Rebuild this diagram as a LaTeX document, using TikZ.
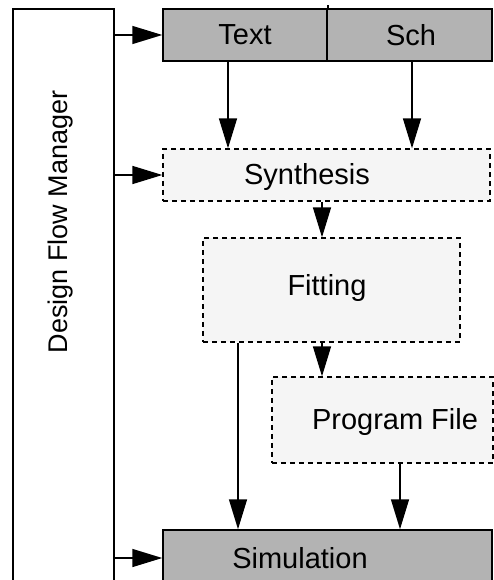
\documentclass[tikz,border=0pt]{standalone}
\usepackage{fontspec}
\setmainfont{Liberation Sans}
\usetikzlibrary{arrows.meta}
\definecolor{boxgray}{HTML}{B3B3B3}
\definecolor{lightfill}{HTML}{F5F5F5}
\begin{document}
\begin{tikzpicture}[x=1pt,y=-1pt,
  lbl/.style={font=\fontsize{29}{34}\selectfont, inner sep=0pt},
  solidbox/.style={draw, line width=1.5pt, fill=boxgray, inner sep=0pt},
  dashbox/.style={draw, line width=1.3pt, dash pattern=on 5pt off 4pt, fill=lightfill, inner sep=0pt},
  arr/.style={line width=1.5pt, -{Triangle[length=30pt,width=18pt]}}]
\useasboundingbox (0,0) rectangle (494,580);
\clip (0,0) rectangle (494,580);
% manager
\draw[line width=1.5pt] (13,620) -- (13,9) -- (114,9) -- (114,620);
\coordinate (mgrE) at (114,300);
\node[lbl, font=\fontsize{27}{32}\selectfont, rotate=90] (mgr) at (61,222) {Design Flow Manager};
% top bar
\node[solidbox, minimum width=164pt, minimum height=52pt] (txt) at (245,35) {};
\node[solidbox, minimum width=165pt, minimum height=52pt] (sch) at (409.5,35) {};
\draw[line width=1.5pt] (txt.north east) -- ++(0,-3);
\node[lbl] (txtl) at (245,35) {Text};
\node[lbl] (schl) at (411,35) {Sch};
% synthesis
\node[dashbox, minimum width=327pt, minimum height=52pt] (syn) at (326.5,175) {};
\node[lbl] (synl) at (307,177) {Synthesis};
% fitting
\node[dashbox, minimum width=257pt, minimum height=104pt] (fit) at (331.5,290) {};
\node[lbl] (fitl) at (327,288) {Fitting};
% program file
\node[dashbox, minimum width=221pt, minimum height=86pt] (prog) at (382.5,420) {};
\node[lbl] (progl) at (395,422) {Program File};
% simulation
\node[solidbox, minimum width=329pt, minimum height=56pt] (sim) at (327.5,558) {};
\node[lbl] (siml) at (300,558) {Simulation};
% arrows from manager
\draw[arr] (mgrE |- txt.west) -- (txt.west);
\draw[arr] (mgrE |- syn.west) -- (syn.west);
\draw[arr] (mgrE |- sim.west) -- (sim.west);
% vertical arrows
\draw[arr] ([xshift=-17pt]txt.south) -- ([xshift=-17pt]txt.south |- syn.north);
\draw[arr] ([xshift=2.5pt]sch.south) -- ([xshift=2.5pt]sch.south |- syn.north);
\draw[arr] ([xshift=-4.5pt]syn.south) -- ([xshift=-4.5pt]syn.south |- fit.north);
\draw[arr] ([xshift=-9.5pt]fit.south) -- ([xshift=-9.5pt]fit.south |- prog.north);
\draw[arr] ([xshift=-93.5pt]fit.south) -- ([xshift=-93.5pt]fit.south |- sim.north);
\draw[arr] ([xshift=17.5pt]prog.south) -- ([xshift=17.5pt]prog.south |- sim.north);
\end{tikzpicture}
\end{document}
